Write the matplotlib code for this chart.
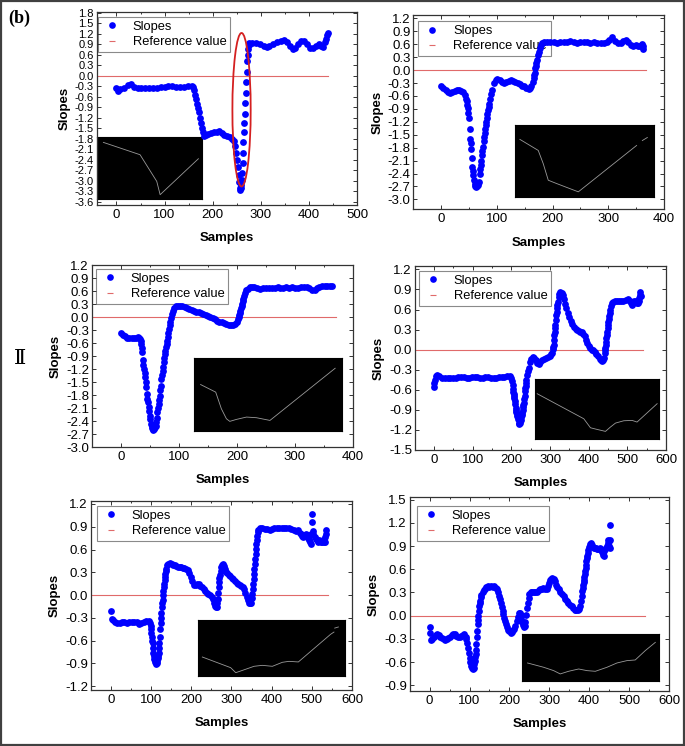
import numpy as np
import matplotlib
matplotlib.use('Agg')
import matplotlib.pyplot as plt
from matplotlib.lines import Line2D
from matplotlib.patches import Ellipse, Rectangle

plt.rcParams['font.family'] = ['Liberation Sans', 'DejaVu Sans']
plt.rcParams['axes.unicode_minus'] = False

# ---- slopes: (sample, slope) ----
slopes1 = [(0, -0.36), (4, -0.43), (8, -0.38), (16, -0.34), (24, -0.27), (30, -0.24), (36, -0.33),
           (44, -0.36), (52, -0.36), (60, -0.35), (68, -0.35), (76, -0.34), (84, -0.34), (92, -0.33),
           (100, -0.32), (108, -0.31), (116, -0.31), (124, -0.32), (132, -0.33), (140, -0.32),
           (148, -0.31), (156, -0.31), (160, -0.32), (162, -0.40), (164, -0.55), (166, -0.68),
           (168, -0.80), (170, -0.92), (172, -1.05), (174, -1.20), (176, -1.35), (178, -1.50),
           (180, -1.62), (183, -1.72), (187, -1.70), (191, -1.67), (196, -1.65), (202, -1.62),
           (208, -1.60), (214, -1.59), (219, -1.64), (224, -1.69), (230, -1.72), (236, -1.76),
           (241, -1.81), (244, -1.88), (246, -2.00), (248, -2.20), (250, -2.40), (252, -2.60),
           (254, -2.85), (255, -3.05), (256, -3.20), (257, -3.26), (258, -3.21), (259, -3.12),
           (260, -2.98), (261, -2.79), (262, -2.51), (263, -2.20), (264, -1.90), (265, -1.62),
           (266, -1.36), (267, -1.09), (268, -0.78), (269, -0.50), (270, -0.19), (271, 0.11),
           (272, 0.41), (273, 0.58), (274, 0.77), (275, 0.88), (276, 0.93), (282, 0.94), (290, 0.93),
           (298, 0.91), (306, 0.85), (312, 0.82), (318, 0.86), (326, 0.90), (334, 0.96), (342, 1.00),
           (348, 1.03), (354, 0.97), (360, 0.85), (366, 0.75), (372, 0.80), (378, 0.90), (384, 0.99),
           (390, 0.98), (396, 0.90), (402, 0.78), (408, 0.80), (414, 0.86), (420, 0.90), (426, 0.85),
           (430, 0.82), (434, 0.95), (436, 1.05), (438, 1.15), (439, 1.22)]

slopes2 = [(0, -0.36), (4, -0.41), (8, -0.47), (12, -0.51), (16, -0.53), (20, -0.51), (24, -0.48),
           (28, -0.45), (32, -0.46), (36, -0.48), (40, -0.50), (43, -0.58), (45, -0.66), (46, -0.72),
           (47, -0.80), (48, -0.89), (49, -1.00), (50, -1.12), (51, -1.36), (52, -1.59), (53, -1.70),
           (54, -1.82), (55, -2.05), (56, -2.25), (57, -2.35), (58, -2.44), (59, -2.55), (60, -2.64),
           (61, -2.68), (62, -2.71), (64, -2.70), (66, -2.67), (68, -2.60), (69, -2.40), (70, -2.30),
           (71, -2.21), (72, -2.10), (73, -1.98), (74, -1.88), (75, -1.78), (76, -1.65), (77, -1.55),
           (78, -1.45), (79, -1.36), (80, -1.28), (81, -1.20), (82, -1.10), (83, -1.01), (84, -0.93),
           (85, -0.85), (86, -0.78), (88, -0.66), (90, -0.55), (92, -0.45), (95, -0.31), (98, -0.24),
           (101, -0.21), (105, -0.23), (109, -0.27), (113, -0.30), (117, -0.28), (121, -0.25),
           (125, -0.23), (129, -0.25), (133, -0.27), (137, -0.30), (141, -0.33), (145, -0.36),
           (149, -0.38), (153, -0.41), (157, -0.43), (160, -0.41), (162, -0.36), (164, -0.27),
           (166, -0.18), (167, -0.12), (168, -0.06), (169, 0.04), (170, 0.10), (171, 0.17), (172, 0.23),
           (174, 0.36), (175, 0.43), (177, 0.51), (179, 0.58), (181, 0.62), (185, 0.65), (190, 0.66),
           (196, 0.66), (202, 0.65), (208, 0.64), (214, 0.65), (220, 0.66), (226, 0.66), (232, 0.67),
           (238, 0.66), (244, 0.64), (250, 0.65), (256, 0.66), (262, 0.65), (268, 0.64), (274, 0.65),
           (280, 0.64), (286, 0.63), (292, 0.62), (298, 0.65), (302, 0.70), (307, 0.76), (312, 0.67),
           (317, 0.63), (322, 0.62), (327, 0.68), (331, 0.71), (336, 0.66), (341, 0.58), (345, 0.57),
           (349, 0.58), (353, 0.55), (357, 0.57), (360, 0.60), (362, 0.50), (363, 0.56)]

slopes3 = [(0, -0.36), (3, -0.40), (7, -0.44), (11, -0.47), (15, -0.48), (19, -0.49), (23, -0.49),
           (27, -0.48), (30, -0.46), (32, -0.48), (33, -0.50), (34, -0.56), (35, -0.62), (36, -0.71),
           (37, -0.81), (38, -1.00), (39, -1.10), (40, -1.20), (41, -1.30), (42, -1.39), (43, -1.50),
           (44, -1.62), (45, -1.78), (46, -1.88), (47, -1.97), (48, -2.07), (49, -2.16), (50, -2.28),
           (51, -2.36), (52, -2.47), (53, -2.52), (54, -2.57), (55, -2.59), (56, -2.60), (57, -2.59),
           (58, -2.57), (59, -2.54), (60, -2.51), (61, -2.42), (62, -2.32), (63, -2.20), (64, -2.10),
           (65, -2.01), (66, -1.91), (67, -1.81), (68, -1.68), (69, -1.58), (70, -1.43), (71, -1.33),
           (72, -1.24), (73, -1.14), (74, -1.04), (75, -0.95), (76, -0.85), (77, -0.77), (78, -0.70),
           (79, -0.62), (80, -0.54), (81, -0.46), (82, -0.36), (83, -0.27), (84, -0.19), (85, -0.11),
           (86, -0.03), (88, 0.08), (90, 0.15), (92, 0.21), (95, 0.25), (98, 0.27), (102, 0.26),
           (106, 0.25), (110, 0.24), (114, 0.22), (118, 0.19), (122, 0.17), (126, 0.15), (130, 0.13),
           (134, 0.11), (138, 0.09), (142, 0.07), (146, 0.05), (150, 0.03), (154, 0.01), (158, -0.02),
           (162, -0.05), (166, -0.08), (170, -0.10), (174, -0.12), (178, -0.14), (182, -0.16),
           (186, -0.18), (190, -0.19), (194, -0.19), (197, -0.16), (200, -0.12), (202, -0.05),
           (203, 0.00), (204, 0.05), (205, 0.10), (206, 0.15), (207, 0.21), (208, 0.26), (209, 0.31),
           (210, 0.37), (211, 0.43), (212, 0.50), (214, 0.57), (216, 0.62), (219, 0.66), (222, 0.69),
           (226, 0.70), (230, 0.69), (235, 0.67), (240, 0.66), (245, 0.67), (250, 0.67), (255, 0.68),
           (260, 0.68), (265, 0.67), (270, 0.69), (275, 0.68), (280, 0.68), (285, 0.69), (290, 0.68),
           (295, 0.69), (300, 0.68), (305, 0.68), (310, 0.69), (315, 0.70), (320, 0.69), (325, 0.67),
           (330, 0.63), (334, 0.63), (338, 0.67), (342, 0.69), (347, 0.72), (352, 0.72), (356, 0.73),
           (360, 0.72), (364, 0.72)]

slopes4 = [(0, -0.56), (1, -0.50), (2, -0.45), (4, -0.40), (8, -0.38), (14, -0.39), (21, -0.42),
           (28, -0.43), (35, -0.43), (42, -0.43), (49, -0.42), (56, -0.42), (63, -0.41), (70, -0.41),
           (77, -0.41), (84, -0.42), (91, -0.42), (98, -0.41), (105, -0.41), (112, -0.41), (119, -0.42),
           (126, -0.42), (133, -0.41), (140, -0.41), (147, -0.42), (154, -0.42), (161, -0.42),
           (168, -0.41), (175, -0.41), (182, -0.41), (189, -0.40), (196, -0.40), (200, -0.43),
           (202, -0.47), (203, -0.53), (204, -0.59), (205, -0.63), (206, -0.67), (207, -0.70),
           (208, -0.72), (209, -0.77), (210, -0.82), (211, -0.87), (212, -0.90), (213, -0.93),
           (214, -0.96), (215, -0.99), (217, -1.04), (219, -1.09), (221, -1.11), (223, -1.09),
           (225, -1.05), (226, -1.01), (227, -0.97), (228, -0.94), (229, -0.90), (230, -0.86),
           (231, -0.83), (232, -0.80), (233, -0.74), (234, -0.69), (235, -0.62), (236, -0.58),
           (237, -0.54), (238, -0.50), (239, -0.45), (241, -0.38), (243, -0.32), (245, -0.27),
           (248, -0.19), (251, -0.14), (255, -0.11), (259, -0.13), (263, -0.16), (267, -0.20),
           (271, -0.21), (275, -0.18), (280, -0.16), (285, -0.14), (290, -0.12), (295, -0.11),
           (300, -0.09), (303, -0.07), (305, -0.05), (307, 0.01), (308, 0.04), (309, 0.07), (310, 0.15),
           (311, 0.22), (312, 0.27), (313, 0.32), (314, 0.37), (315, 0.45), (316, 0.52), (317, 0.57),
           (318, 0.62), (319, 0.67), (320, 0.71), (322, 0.79), (324, 0.83), (327, 0.86), (330, 0.85),
           (333, 0.81), (336, 0.75), (339, 0.68), (342, 0.62), (346, 0.55), (350, 0.49), (354, 0.43),
           (358, 0.38), (362, 0.34), (366, 0.31), (370, 0.29), (374, 0.28), (378, 0.27), (382, 0.26),
           (386, 0.24), (390, 0.20), (393, 0.15), (396, 0.10), (400, 0.06), (404, 0.02), (408, 0.00),
           (412, -0.01), (416, -0.04), (420, -0.07), (424, -0.10), (428, -0.14), (431, -0.16),
           (434, -0.17), (437, -0.15), (439, -0.12), (441, -0.05), (442, -0.01), (443, 0.02),
           (444, 0.07), (445, 0.12), (446, 0.17), (447, 0.22), (448, 0.27), (449, 0.32), (450, 0.37),
           (451, 0.42), (452, 0.46), (453, 0.50), (454, 0.55), (456, 0.59), (458, 0.65), (460, 0.69),
           (463, 0.71), (467, 0.73), (472, 0.72), (478, 0.72), (484, 0.72), (490, 0.73), (496, 0.74),
           (502, 0.75), (506, 0.73), (510, 0.70), (512, 0.67), (515, 0.70), (518, 0.72), (522, 0.73),
           (525, 0.70), (528, 0.69), (530, 0.72), (531, 0.77), (532, 0.81), (533, 0.86), (534, 0.80)]

slopes5 = [(0, -0.21), (2, -0.32), (5, -0.33), (10, -0.35), (16, -0.37), (22, -0.37), (28, -0.35),
           (34, -0.36), (40, -0.37), (46, -0.36), (52, -0.35), (58, -0.35), (64, -0.36), (70, -0.38),
           (76, -0.37), (82, -0.35), (88, -0.34), (94, -0.34), (97, -0.37), (99, -0.41), (100, -0.45),
           (101, -0.50), (102, -0.55), (103, -0.60), (104, -0.63), (105, -0.70), (106, -0.76),
           (107, -0.80), (108, -0.84), (110, -0.88), (112, -0.91), (114, -0.90), (116, -0.87),
           (117, -0.83), (118, -0.80), (119, -0.76), (120, -0.70), (121, -0.63), (122, -0.55),
           (123, -0.45), (124, -0.37), (125, -0.30), (126, -0.24), (127, -0.16), (128, -0.11),
           (129, -0.06), (130, 0.00), (131, 0.05), (132, 0.10), (133, 0.15), (134, 0.20), (135, 0.24),
           (136, 0.28), (137, 0.32), (138, 0.35), (140, 0.39), (143, 0.41), (147, 0.42), (151, 0.41),
           (155, 0.40), (159, 0.39), (163, 0.38), (167, 0.37), (171, 0.37), (175, 0.37), (179, 0.36),
           (183, 0.36), (187, 0.35), (191, 0.33), (195, 0.29), (199, 0.24), (203, 0.18), (207, 0.13),
           (211, 0.13), (215, 0.15), (219, 0.14), (223, 0.12), (227, 0.10), (231, 0.08), (235, 0.05),
           (239, 0.03), (243, 0.02), (247, 0.00), (251, -0.02), (254, -0.05), (257, -0.10),
           (259, -0.14), (261, -0.16), (263, -0.16), (265, -0.10), (266, -0.05), (267, 0.03),
           (268, 0.11), (269, 0.17), (270, 0.22), (271, 0.26), (273, 0.32), (275, 0.37), (277, 0.39),
           (279, 0.41), (281, 0.38), (283, 0.35), (286, 0.31), (289, 0.29), (293, 0.27), (297, 0.25),
           (301, 0.23), (305, 0.21), (309, 0.18), (313, 0.16), (317, 0.15), (321, 0.13), (325, 0.12),
           (329, 0.11), (332, 0.08), (335, 0.03), (338, -0.02), (341, -0.06), (344, -0.10),
           (347, -0.11), (349, -0.10), (351, -0.04), (352, 0.02), (353, 0.08), (354, 0.15), (355, 0.21),
           (356, 0.28), (357, 0.35), (358, 0.41), (359, 0.47), (360, 0.54), (361, 0.61), (362, 0.67),
           (363, 0.72), (364, 0.78), (365, 0.83), (367, 0.86), (371, 0.88), (377, 0.88), (383, 0.87),
           (389, 0.87), (395, 0.86), (401, 0.87), (407, 0.88), (413, 0.88), (419, 0.88), (425, 0.88),
           (431, 0.89), (437, 0.89), (443, 0.88), (449, 0.87), (455, 0.86), (461, 0.85), (466, 0.86),
           (470, 0.82), (473, 0.80), (476, 0.78), (479, 0.77), (482, 0.79), (486, 0.80), (489, 0.76),
           (492, 0.74), (494, 0.72), (496, 0.70), (497, 0.67), (499, 0.80), (500, 0.96), (501, 1.07),
           (502, 0.85), (504, 0.80), (507, 0.76), (510, 0.74), (513, 0.72), (516, 0.70), (519, 0.72),
           (522, 0.70), (525, 0.70), (528, 0.73), (531, 0.70), (533, 0.70), (534, 0.76), (535, 0.80),
           (536, 0.86)]

slopes6 = [(0, -0.14), (2, -0.22), (4, -0.32), (7, -0.30), (11, -0.27), (15, -0.25), (19, -0.24),
           (23, -0.25), (27, -0.27), (31, -0.29), (35, -0.30), (39, -0.31), (43, -0.30), (47, -0.29),
           (51, -0.27), (55, -0.25), (59, -0.24), (63, -0.24), (67, -0.26), (71, -0.28), (75, -0.27),
           (79, -0.26), (83, -0.25), (87, -0.24), (90, -0.27), (92, -0.30), (94, -0.35), (96, -0.42),
           (98, -0.48), (100, -0.55), (102, -0.60), (104, -0.65), (106, -0.67), (108, -0.69),
           (110, -0.68), (112, -0.62), (113, -0.58), (114, -0.54), (115, -0.50), (116, -0.44),
           (117, -0.37), (118, -0.28), (119, -0.20), (120, -0.11), (121, -0.05), (122, 0.00),
           (123, 0.06), (124, 0.12), (125, 0.16), (126, 0.19), (128, 0.24), (130, 0.27), (133, 0.30),
           (136, 0.33), (139, 0.35), (142, 0.37), (146, 0.38), (150, 0.37), (154, 0.38), (158, 0.37),
           (162, 0.38), (166, 0.36), (169, 0.34), (172, 0.30), (175, 0.25), (177, 0.21), (179, 0.16),
           (181, 0.11), (183, 0.06), (185, 0.02), (187, -0.03), (189, -0.07), (191, -0.11),
           (194, -0.15), (197, -0.18), (200, -0.20), (203, -0.22), (206, -0.21), (209, -0.19),
           (212, -0.17), (215, -0.13), (218, -0.07), (221, -0.02), (224, 0.03), (226, 0.04),
           (228, 0.01), (230, -0.04), (232, -0.08), (234, -0.12), (236, -0.14), (238, -0.13),
           (240, -0.08), (242, 0.01), (244, 0.10), (246, 0.17), (248, 0.23), (250, 0.28), (253, 0.30),
           (257, 0.30), (261, 0.30), (265, 0.31), (269, 0.31), (273, 0.33), (277, 0.34), (281, 0.35),
           (285, 0.36), (289, 0.35), (293, 0.35), (296, 0.38), (299, 0.42), (302, 0.46), (305, 0.48),
           (308, 0.49), (311, 0.48), (314, 0.45), (317, 0.40), (320, 0.37), (324, 0.34), (328, 0.31),
           (332, 0.28), (336, 0.25), (340, 0.22), (344, 0.19), (348, 0.16), (352, 0.14), (356, 0.12),
           (360, 0.10), (364, 0.08), (368, 0.07), (372, 0.07), (375, 0.09), (377, 0.13), (379, 0.19),
           (381, 0.25), (383, 0.32), (384, 0.36), (385, 0.40), (386, 0.43), (387, 0.46), (388, 0.50),
           (389, 0.54), (390, 0.58), (391, 0.62), (392, 0.66), (393, 0.71), (394, 0.74), (395, 0.77),
           (396, 0.81), (398, 0.85), (400, 0.89), (402, 0.93), (405, 0.94), (408, 0.91), (411, 0.87),
           (414, 0.88), (417, 0.88), (420, 0.86), (423, 0.86), (426, 0.87), (429, 0.85), (432, 0.82),
           (434, 0.79), (436, 0.77), (438, 0.83), (440, 0.86), (442, 0.88), (444, 0.90), (446, 0.94),
           (448, 0.98), (449, 0.96), (450, 0.90), (451, 0.88), (452, 1.17), (453, 0.98)]

# reference value line (y = 0) runs from the left edge up to these samples
ref_value = 0.0
ref_end = [440, 367, 370, 540, 540, 540]

# y tick ranges and x tick maxima
ytick_lo = [-3.6, -3.0, -3.0, -1.5, -1.2, -0.9]
ytick_hi = [1.8, 1.2, 1.2, 1.2, 1.2, 1.5]
xtick_max = [500, 400, 400, 600, 600, 600]

# contour sketches shown in the black insets (normalised 0..1 coords)
contour1 = [(0.063, 0.914), (0.41, 0.715), (0.568, 0.285), (0.60, 0.07), (0.962, 0.65)]
contour2 = [(0.036, 0.80), (0.168, 0.647), (0.204, 0.463), (0.24, 0.234), (0.30, 0.188),
            (0.456, 0.073), (0.875, 0.716), (np.nan, np.nan), (0.916, 0.784), (0.952, 0.826)]
contour3 = [(0.047, 0.636), (0.149, 0.532), (0.187, 0.305), (0.221, 0.168), (0.244, 0.132),
            (0.289, 0.159), (0.357, 0.191), (0.424, 0.182), (0.515, 0.145), (0.955, 0.859)]
contour4 = [(0.019, 0.758), (0.395, 0.337), (0.449, 0.185), (0.503, 0.157), (0.570, 0.124),
            (0.610, 0.197), (0.651, 0.264), (0.718, 0.303), (0.785, 0.309), (0.825, 0.281),
            (0.987, 0.59)]
contour5 = [(0.027, 0.337), (0.22, 0.148), (0.255, 0.059), (0.289, 0.089), (0.38, 0.172),
            (0.436, 0.189), (0.505, 0.172), (0.573, 0.243), (0.618, 0.26), (0.682, 0.249),
            (0.902, 0.74), (0.925, 0.78), (np.nan, np.nan), (0.93, 0.85), (0.955, 0.87)]
contour6 = [(0.041, 0.387), (0.159, 0.296), (0.232, 0.225), (0.28, 0.155), (0.341, 0.211),
            (0.415, 0.26), (0.476, 0.225), (0.537, 0.211), (0.622, 0.296), (0.695, 0.387),
            (0.768, 0.437), (0.829, 0.451), (0.902, 0.648), (0.976, 0.824)]

slopes = [slopes1, slopes2, slopes3, slopes4, slopes5, slopes6]
contours = [contour1, contour2, contour3, contour4, contour5, contour6]

# layout (pixels of the 685x746 picture turned into figure fractions)
axes_rect = [(0.1412, 0.7252, 0.380, 0.2587),
             (0.6034, 0.7194, 0.366, 0.2600),
             (0.1339, 0.4008, 0.3815, 0.2436),
             (0.6054, 0.3968, 0.3669, 0.2466),
             (0.1324, 0.0751, 0.3815, 0.2534),
             (0.5981, 0.0741, 0.3785, 0.2592)]
xlims = [(-41, 498), (-50, 400), (-50, 400), (-50, 600), (-50, 600), (-50, 600)]
ylims = [(-3.7, 1.82), (-3.23, 1.27), (-3.0, 1.2), (-1.5, 1.25), (-1.25, 1.24), (-0.97, 1.53)]
legend_anchor = [(0.004, 0.975), (0.019, 0.97), (0.016, 0.98), (0.017, 0.973), (0.024, 0.973),
                 (0.028, 0.955)]
inset_rect = [(0.0, 0.031, 0.406, 0.321), (0.405, 0.063, 0.555, 0.372), (0.39, 0.088, 0.567, 0.402),
              (0.478, 0.061, 0.493, 0.323), (0.412, 0.074, 0.561, 0.298), (0.433, 0.049, 0.527, 0.244)]

BLUE = '#0000ff'
RED = '#e06a6a'
SPINE = '#333333'

fig = plt.figure(figsize=(6.85, 7.46), dpi=100)

for i in range(6):
    ax = fig.add_axes(axes_rect[i])
    pts = np.array(slopes[i])
    ax.plot(pts[:, 0], pts[:, 1], 'o', color=BLUE, ms=4.9, mew=0, zorder=3)
    ax.plot([xlims[i][0] - 20, ref_end[i]], [ref_value, ref_value], color=RED, lw=0.8, zorder=2)

    ax.set_xlim(*xlims[i])
    ax.set_ylim(*ylims[i])
    ax.set_xticks(np.arange(0, xtick_max[i] + 1, 100))
    ax.set_xticks(np.arange(0, xtick_max[i] + 1, 50), minor=True)
    yt = np.round(np.arange(ytick_lo[i], ytick_hi[i] + 0.01, 0.3), 1)
    ax.set_yticks(yt)
    ax.set_yticklabels(['%.1f' % (v + 0.0) if abs(v) > 1e-9 else '0.0' for v in yt])
    ysize = 8 if i == 0 else 9.5
    ax.tick_params(axis='both', which='both', direction='in', top=True, right=True,
                   color=SPINE, width=0.7)
    ax.tick_params(axis='both', which='major', length=3, pad=3)
    ax.tick_params(axis='both', which='minor', length=1.5)
    ax.tick_params(axis='x', labelsize=9.5)
    ax.tick_params(axis='y', labelsize=ysize, pad=2)
    for sp in ax.spines.values():
        sp.set_color(SPINE)
        sp.set_linewidth(0.9)
    ax.set_xlabel('Samples', fontsize=9.5, fontweight='bold', labelpad=8)
    ax.set_ylabel('Slopes', fontsize=9.5, fontweight='bold', labelpad=3)

    handles = [Line2D([], [], marker='o', color=BLUE, linestyle='none', ms=4.8, mew=0),
               Line2D([], [], marker='_', color=RED, linestyle='none', ms=4, mew=0.8)]
    leg = ax.legend(handles, ['Slopes', 'Reference value'], loc='upper left',
                    bbox_to_anchor=legend_anchor[i], borderaxespad=0, fontsize=9.3,
                    frameon=True, fancybox=False, edgecolor='#8a8a8a', framealpha=1,
                    borderpad=0.3, labelspacing=0.25, handlelength=1.6, handletextpad=0.8)
    leg.get_frame().set_linewidth(0.8)
    leg.set_zorder(1)

    ins = ax.inset_axes(inset_rect[i])
    ins.set_facecolor('black')
    c = np.array(contours[i], dtype=float)
    ins.plot(c[:, 0], c[:, 1], color='#9a9a9a', lw=0.6)
    ins.set_xlim(0, 1)
    ins.set_ylim(0, 1)
    ins.set_xticks([])
    ins.set_yticks([])
    for sp in ins.spines.values():
        sp.set_color('black')
    ins.set_zorder(2)

    if i == 0:
        ax.add_patch(Ellipse((260, -0.975), 38, 4.39, fill=False, edgecolor='#d42020', lw=1.3,
                             zorder=4))

fig.text(8 / 685, 1 - 10 / 746, '(b)', fontsize=13, fontweight='bold', ha='left', va='top',
         family=['Liberation Serif', 'DejaVu Serif'])
fig.text(20 / 685, 1 - 358 / 746, 'Ⅱ', fontsize=15, ha='center', va='center',
         family=['DejaVu Serif', 'Liberation Serif'])

fig.patches.append(Rectangle((0.002, 0.002), 0.996, 0.996, transform=fig.transFigure,
                             fill=False, edgecolor='#404040', lw=1.6))

fig.savefig('out.png', dpi=100)
